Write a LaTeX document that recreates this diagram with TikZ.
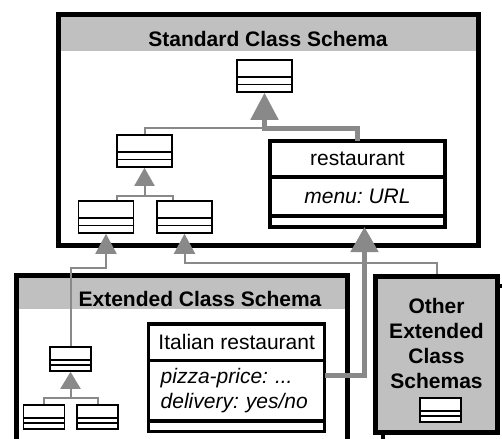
\documentclass[tikz,border=0pt]{standalone}
\usepackage{fontspec}
\setmainfont{Liberation Sans}
\usetikzlibrary{arrows.meta, positioning, calc}

\definecolor{linegray}{HTML}{898989}
\definecolor{headgray}{HTML}{C0C0C0}
\newcommand{\figfont}{\fontsize{21}{25}\selectfont\frenchspacing}

\begin{document}
\begin{tikzpicture}[x=1pt, y=-1pt, font=\figfont,
  schema/.style={draw, line width=5pt, inner sep=0pt},
  schemahead/.style={path picture={\fill[headgray] (path picture bounding box.north west)
      rectangle ([yshift=-#1]path picture bounding box.north east);}},
  clsicon/.style={draw, line width=1.6pt, fill=white, inner sep=0pt,
    path picture={
      \draw[line width=1.6pt] ($(path picture bounding box.north west)!.53!(path picture bounding box.south west)$)
        -- ($(path picture bounding box.north east)!.53!(path picture bounding box.south east)$);
      \draw[line width=1.6pt] ($(path picture bounding box.north west)!.76!(path picture bounding box.south west)$)
        -- ($(path picture bounding box.north east)!.76!(path picture bounding box.south east)$);}},
  bigcls/.style={clsicon, minimum width=55pt, minimum height=32pt},
  smallcls/.style={clsicon, minimum width=41pt, minimum height=24pt},
  compart/.style={draw, line width=3.5pt, fill=white, inner sep=0pt, outer sep=0pt},
  gen/.style={draw=linegray, line width=2pt},
  genthick/.style={draw=linegray, line width=5pt}]
\useasboundingbox (0,0) rectangle (502,438);

% define the schema frames
  \node[draw, line width=4pt, minimum width=122pt, minimum height=156.5pt] (othershadow) at (443.5,364) {};
  \node[schema, schemahead=35.7pt, minimum width=420pt, minimum height=230pt] (std) at (268.5,130) {};
  \node[schema, schemahead=34pt, minimum width=330.8pt, minimum height=180pt] (ext) at (182.1,365.3) {};
  \node[schema, fill=headgray, minimum width=122pt, minimum height=156.5pt] (other) at (436.5,354.25) {};

  \node[font=\figfont\bfseries] (stdtitle) at (268,39) {Standard Class Schema};
  \node[font=\figfont\bfseries] (exttitle) at (200,298.5) {Extended Class Schema};
  \node[font=\figfont\bfseries, align=center] (othertitle) at (436.5,343.5) {Other\\Extended\\Class\\Schemas};

% define the small classes
  \node[bigcls] (topcls) at (264.5,76) {};
  \node[bigcls] (midcls) at (144.5,151) {};
  \node[bigcls] (leftcls) at (106,217) {};
  \node[bigcls] (rightcls) at (184.5,217) {};
  \node[smallcls] (extcls) at (70.5,359) {};
  \node[smallcls] (extleft) at (43.8,417) {};
  \node[smallcls] (extright) at (97.5,417) {};
  \node[smallcls] (othercls) at (440.5,410) {};

% define the two named classes
  \node[compart, minimum width=175pt, minimum height=36pt] (restname) at (357.5,159) {restaurant};
  \node[compart, minimum width=175pt, minimum height=39pt, below=0pt of restname] (restattr) {\itshape menu: URL};
  \node[compart, minimum width=175pt, minimum height=11pt, below=0pt of restattr] (restops) {};

  \node[compart, minimum width=176pt, minimum height=36.5pt] (italname) at (236.7,342.25) {Italian restaurant};
  \node[compart, text width=152pt, inner xsep=12pt, minimum height=60.5pt, align=left,
        font=\figfont\itshape, below=0pt of italname] (italattr) {pizza-price: ...\\delivery: yes/no};
  \node[compart, minimum width=176pt, minimum height=10.5pt, below=0pt of italattr] (italops) {};

% define the links
  \coordinate (j1) at (264.5,128.5);
  \coordinate (j2) at (144.5,195.5);
  \coordinate (j3) at (106,268);
  \coordinate (j4) at (184.5,263);
  \coordinate (j5) at (364.5,375);
  \coordinate (j6) at (70.5,398);

  \draw[genthick, -{Triangle[width=27pt,length=27pt]}] (restname.north) |- (j1) -- (topcls.south);
  \draw[gen] (midcls.north) |- (j1);
  \draw[gen, -{Triangle[width=20pt,length=18pt]}] (j2) -- (midcls.south);
  \draw[gen] ([xshift=11pt]leftcls.north) |- (j2) -| ([xshift=-11.5pt]rightcls.north);
  \draw[gen, -{Triangle[width=21pt,length=20pt]}] (extcls.north) |- (j3) -- (leftcls.south);
  \draw[gen, -{Triangle[width=21pt,length=20pt]}] (other.north) |- (j4) -- (rightcls.south);
  \draw[genthick, -{Triangle[width=27pt,length=25pt]}] (italattr.east |- j5) -- (j5) -- (restops.south -| j5);
  \draw[gen, -{Triangle[width=20pt,length=17pt]}] (j6) -- (extcls.south);
  \draw[gen] (extleft.north) |- (j6) -| (extright.north);
\end{tikzpicture}
\end{document}
